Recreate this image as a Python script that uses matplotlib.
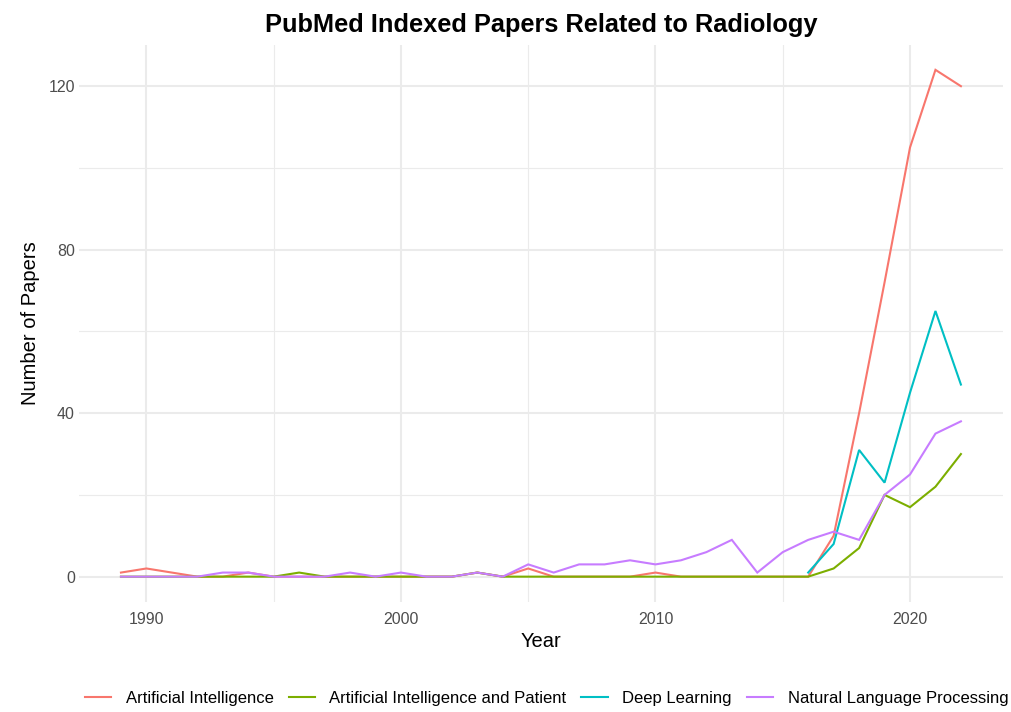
import numpy as np
import matplotlib.pyplot as plt
from matplotlib.ticker import MultipleLocator

plt.rcParams['font.family'] = ['Liberation Sans', 'DejaVu Sans']

years = list(range(1989, 2023))

ai = [1, 2, 1, 0, 0, 1, 0, 0, 0, 0, 0, 0, 0, 0, 1, 0, 2, 0, 0, 0, 0, 1,
      0, 0, 0, 0, 0, 0, 10, 40, 72, 105, 124, 120]
ai_patient = [0, 0, 0, 0, 0, 0, 0, 1, 0, 0, 0, 0, 0, 0, 1, 0, 0, 0, 0, 0, 0, 0,
              0, 0, 0, 0, 0, 0, 2, 7, 20, 17, 22, 30]
dl_years = list(range(2016, 2023))
deep_learning = [1, 8, 31, 23, 45, 65, 47]
nlp = [0, 0, 0, 0, 1, 1, 0, 0, 0, 1, 0, 1, 0, 0, 1, 0, 3, 1, 3, 3, 4, 3,
       4, 6, 9, 1, 6, 9, 11, 9, 20, 25, 35, 38]

labels = ["Artificial Intelligence", "Artificial Intelligence and Patient",
          "Deep Learning", "Natural Language Processing"]
colors = ["#F8766D", "#7CAE00", "#00BFC4", "#C77CFF"]

fig = plt.figure(figsize=(10.11, 7.12), dpi=100)
ax = fig.add_axes([0.0781, 0.1545, 0.9139, 0.783])

series = [(years, ai), (years, ai_patient), (dl_years, deep_learning), (years, nlp)]
for (x, y), lab, c in zip(series, labels, colors):
    ax.plot(x, y, color=c, lw=1.5, label=lab, solid_joinstyle='miter')

ax.set_xlim(1987.35, 2023.65)
ax.set_ylim(-6.2, 130.2)
ax.xaxis.set_major_locator(MultipleLocator(10))
ax.xaxis.set_minor_locator(MultipleLocator(5))
ax.yaxis.set_major_locator(MultipleLocator(40))
ax.yaxis.set_minor_locator(MultipleLocator(20))
ax.grid(which='major', color='#EBEBEB', lw=1.5)
ax.grid(which='minor', color='#EBEBEB', lw=0.8)
ax.set_axisbelow(True)
for s in ax.spines.values():
    s.set_visible(False)
ax.tick_params(which='both', length=0, labelsize=11.5, labelcolor='#4D4D4D')
ax.tick_params(axis='x', pad=7)
ax.tick_params(axis='y', pad=3)

ax.set_xlabel("Year", fontsize=14.5, labelpad=4)
ax.set_ylabel("Number of Papers", fontsize=14.5, labelpad=6)
ax.set_title("PubMed Indexed Papers Related to Radiology", fontsize=18.3,
             fontweight='bold', pad=9)

fig.legend(loc='lower center', ncol=4, frameon=False, fontsize=12,
           bbox_to_anchor=(0.5406, -0.012), handlelength=1.6, columnspacing=0.9,
           handletextpad=0.85)

fig.savefig("out.png", dpi=100)
